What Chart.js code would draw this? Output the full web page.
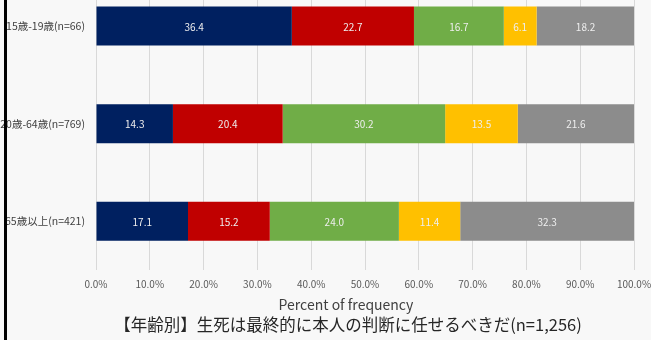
<!DOCTYPE html>
<html>
<head>
<meta charset="utf-8">
<script src="https://cdn.jsdelivr.net/npm/chart.js@4.4.1/dist/chart.umd.min.js"></script>
<style>
  html, body { margin: 0; padding: 0; background: #f8f8f8; overflow: hidden; }
  body { width: 651px; height: 340px; position: relative; }
  #wrap { position: absolute; left: 0; top: -32px; width: 651px; height: 372px; }
  #edge { position: absolute; left: 4px; top: 0; width: 3px; height: 340px; background: #000; }
</style>
</head>
<body>
<div id="wrap"><canvas id="chart"></canvas></div>
<div id="edge"></div>
<script>
var categories = ['15歳-19歳(n=66)', '20歳-64歳(n=769)', '65歳以上(n=421)'];
var series1 = [36.4, 14.3, 17.1];
var series2 = [22.7, 20.4, 15.2];
var series3 = [16.7, 30.2, 24.0];
var series4 = [6.1, 13.5, 11.4];
var series5 = [18.2, 21.6, 32.3];
var seriesNames = ['系列1', '系列2', '系列3', '系列4', '系列5'];
var xTicks = [0, 10, 20, 30, 40, 50, 60, 70, 80, 90, 100];
var xTitle = 'Percent of frequency';
var chartTitle = '【年齢別】生死は最終的に本人の判断に任せるべきだ(n=1,256)';

var fontName = '"Noto Sans CJK JP", "Noto Sans", sans-serif';
var colors = ['#002060', '#c00000', '#70ad47', '#ffc000', '#8c8c8c'];
var shift = 32; // canvas starts above the page

// values printed in the middle of each segment
var segmentLabels = {
	id : 'segmentLabels',
	afterDatasetsDraw : function(chart) {
		var ctx = chart.ctx;
		ctx.save();
		ctx.font = '10px ' + fontName;
		ctx.fillStyle = '#eeeeee';
		ctx.textAlign = 'center';
		ctx.textBaseline = 'middle';
		chart.data.datasets.forEach(function(ds, i) {
			var meta = chart.getDatasetMeta(i);
			meta.data.forEach(function(bar, j) {
				var x = (bar.x + bar.base) / 2;
				ctx.fillText(ds.data[j].toFixed(1), x, bar.y + 1);
			});
		});
		ctx.restore();
	}
};

// axis title and chart title under the axis
var bottomTexts = {
	id : 'bottomTexts',
	afterDraw : function(chart) {
		var ctx = chart.ctx;
		ctx.save();
		ctx.textAlign = 'center';
		ctx.textBaseline = 'middle';
		ctx.fillStyle = '#404040';
		ctx.font = '14px ' + fontName;
		ctx.fillText(xTitle, 346, 305 + shift);
		ctx.fillStyle = '#262626';
		ctx.font = '16.5px ' + fontName;
		ctx.fillText(chartTitle, 348, 325 + shift);
		ctx.restore();
	}
};

var datasets = [series1, series2, series3, series4, series5].map(function(d, i) {
	return {
		label : seriesNames[i],
		data : d,
		backgroundColor : colors[i],
		borderWidth : 0,
		categoryPercentage : 1,
		barPercentage : 0.4
	};
});

new Chart(document.getElementById('chart'), {
	type : 'bar',
	data : { labels : categories, datasets : datasets },
	options : {
		indexAxis : 'y',
		responsive : true,
		maintainAspectRatio : false,
		animation : false,
		layout : { padding : 0 },
		plugins : {
			legend : { display : false },
			tooltip : { enabled : false }
		},
		scales : {
			x : {
				stacked : true,
				min : 0,
				max : 100,
				afterBuildTicks : function(scale) {
					scale.ticks = xTicks.map(function(v) { return { value : v }; });
				},
				afterFit : function(scale) {
					scale.height = 70;
					scale.paddingLeft = 0;
					scale.paddingRight = 17;
				},
				grid : { color : '#d9d9d9', drawTicks : false },
				border : { display : false },
				ticks : {
					padding : 8,
					color : '#595959',
					font : { family : fontName, size : 10 },
					callback : function(v) { return v.toFixed(1) + '%'; }
				}
			},
			y : {
				stacked : true,
				afterFit : function(scale) { scale.width = 96; },
				grid : { display : false },
				border : { display : false },
				ticks : {
					padding : 3,
					color : '#404040',
					font : { family : fontName, size : 10.5 }
				}
			}
		}
	},
	plugins : [segmentLabels, bottomTexts]
});
</script>
</body>
</html>
